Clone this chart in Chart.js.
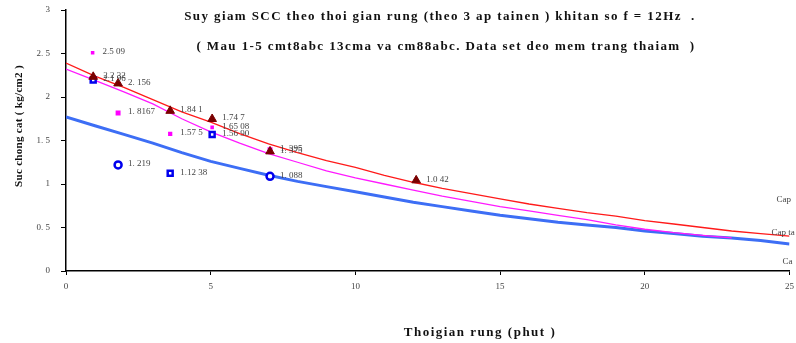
<!DOCTYPE html>
<html>
<head>
<meta charset="utf-8">
<script src="https://cdn.jsdelivr.net/npm/chart.js@4.4.0/dist/chart.umd.min.js"></script>
<style>
  html, body { margin: 0; padding: 0; background: #fff; }
  #wrap { width: 796px; height: 343px; position: relative; }
</style>
</head>
<body>
<div id="wrap"><canvas id="myChart"></canvas></div>
<script>
// thoi gian rung (phut) cho cac duong
var timeRed = [0,1,2,3,4,5,6,7,8,9,10,11,12,13,14,15,16,17,18,19,20,21,22,23,24,25];
var redVals = [2.39,2.24,2.11,1.97,1.83,1.71,1.58,1.46,1.36,1.27,1.19,1.10,1.02,0.95,0.89,0.83,0.77,0.72,0.67,0.63,0.58,0.54,0.50,0.46,0.43,0.40];
var timePink = [0,1,2,3,4,5,6,7,8,9,10,11,12,13,14,15,16,17,18,19,20,21,22,23];
var pinkVals = [2.32,2.19,2.06,1.92,1.75,1.60,1.47,1.35,1.25,1.15,1.07,1.00,0.93,0.86,0.80,0.74,0.69,0.64,0.59,0.53,0.48,0.44,0.41,0.38];
var timeBlue = [0,1,2,3,4,5,6,7,8,9,10,11,12,13,14,15,16,17,18,19,20,21,22,23,24,25];
var blueVals = [1.77,1.67,1.57,1.47,1.36,1.26,1.18,1.10,1.03,0.97,0.91,0.85,0.79,0.74,0.69,0.64,0.60,0.56,0.53,0.50,0.46,0.43,0.40,0.38,0.35,0.31];

// diem do thuc te
var magX = [0.92,1.8,3.6,5.05,7.05];
var magY = [2.509,1.8167,1.575,1.6508,1.395];
var magLbl = ['2.5 09','1. 8167','1.57 5','1.65 08','1. 395'];
var triX = [0.94,1.8,3.6,5.05,7.05,12.1];
var triY = [2.232,2.156,1.841,1.747,1.375,1.042];
var triLbl = ['2.2 32','2. 156','1.84 1','1.74 7','1. 375','1.0 42'];
var bluX = [0.94,1.8,3.6,5.05,7.05];
var bluY = [2.196,1.219,1.1238,1.569,1.088];
var bluLbl = ['2.1 96','1. 219','1.12 38','1.56 90','1. 088'];

var yTicks = [0,0.5,1,1.5,2,2.5,3];
var xTicks = [0,5,10,15,20,25];
var sideLbl = ['Cap', 'Cap ta', 'Ca'];

function pts(xs, ys){
    var out = [];
    for (var i=0;i<xs.length;i++){
        out.push({x: xs[i], y: ys[i]});
    }
    return out;
}

var serif = "'Liberation Serif', 'DejaVu Serif', serif";

var textPlugin = {
    id: 'texts',
    afterDatasetsDraw: function(chart){
        var c = chart.ctx;
        var a = chart.chartArea;
        c.save();
        // nhan cac diem
        c.font = '9px ' + serif;
        c.fillStyle = '#444';
        c.textBaseline = 'middle';
        c.textAlign = 'left';
        var lbls = {3: magLbl, 4: triLbl, 5: bluLbl};
        for (var k in lbls){
            var meta = chart.getDatasetMeta(k);
            meta.data.forEach(function(p, i){
                c.fillText(lbls[k][i], p.x + 10, p.y - 1);
            });
        }
        // nhan ben phai (bi cat)
        c.fillText(sideLbl[0], a.right - 13, 200);
        c.fillText(sideLbl[1], a.right - 18, 233);
        c.fillText(sideLbl[2], a.right - 7, 262);

        // tieu de
        c.font = 'bold 13px ' + serif;
        c.fillStyle = '#111';
        c.textAlign = 'center';
        c.letterSpacing = '1.4px';
        c.fillText('Suy giam SCC theo thoi gian rung (theo 3 ap tainen ) khitan so f = 12Hz  .', 440, 17);
        c.fillText('( Mau 1-5 cmt8abc 13cma va cm88abc. Data set deo mem trang thaiam  )', 446, 47);

        // ten truc
        c.letterSpacing = '1.5px';
        c.fillText('Thoigian rung (phut )', 480, 333);
        c.translate(19, 126);
        c.rotate(-Math.PI/2);
        c.font = 'bold 11px ' + serif;
        c.letterSpacing = '0.3px';
        c.fillText('Suc chong cat ( kg/cm2 )', 0, 0);
        c.restore();
    }
};

var ctx = document.getElementById('myChart').getContext('2d');
var myChart = new Chart(ctx, {
    data: {
        datasets: [{
            type: 'line',
            label: 'Cap',
            data: pts(timeRed, redVals),
            borderColor: '#ff1a1a',
            borderWidth: 1.3,
            pointRadius: 0,
            tension: 0,
            order: 5
        },{
            type: 'line',
            label: 'Cap ta',
            data: pts(timePink, pinkVals),
            borderColor: '#ff1aff',
            borderWidth: 1.3,
            pointRadius: 0,
            tension: 0,
            order: 6
        },{
            type: 'line',
            label: 'Ca',
            data: pts(timeBlue, blueVals),
            borderColor: '#3d6ef5',
            borderWidth: 3,
            pointRadius: 0,
            tension: 0,
            order: 7
        },{
            type: 'scatter',
            label: 'mau hong',
            data: pts(magX, magY),
            pointStyle: 'rect',
            pointRadius: [2.5,3.5,3,2.5,3.5],
            backgroundColor: '#ff00ff',
            borderColor: '#ff00ff',
            borderWidth: 0,
            order: 2
        },{
            type: 'scatter',
            label: 'tam giac',
            data: pts(triX, triY),
            pointStyle: 'triangle',
            pointRadius: 5,
            backgroundColor: '#7a0000',
            borderColor: '#7a0000',
            borderWidth: 1,
            order: 0
        },{
            type: 'scatter',
            label: 'xanh',
            data: pts(bluX, bluY),
            pointStyle: ['rect','circle','rect','rect','circle'],
            pointRadius: 3.5,
            backgroundColor: '#ffffff',
            borderColor: '#0000ee',
            borderWidth: 2.5,
            order: 1
        }]
    },
    options: {
        responsive: true,
        maintainAspectRatio: false,
        animation: false,
        events: [],
        layout: { padding: { top: 10, right: 5, left: 0, bottom: 0 } },
        plugins: {
            legend: { display: false },
            tooltip: { enabled: false },
            title: { display: false }
        },
        scales: {
            x: {
                type: 'linear',
                min: 0,
                max: 25,
                afterFit: function(s){
                    s.height = 72;
                    s.paddingLeft = 0;
                    s.paddingRight = 0;
                },
                afterBuildTicks: function(s){ s.ticks = xTicks.map(function(v){ return {value: v}; }); },
                grid: {
                    drawOnChartArea: false,
                    drawTicks: true,
                    tickLength: 4,
                    color: '#000'
                },
                border: { color: '#000', width: 1.5 },
                ticks: {
                    padding: 6,
                    color: '#444',
                    font: { family: serif, size: 9 },
                    maxRotation: 0
                }
            },
            y: {
                min: 0,
                max: 3,
                afterFit: function(s){
                    s.width = 66;
                    s.paddingTop = 0;
                    s.paddingBottom = 0;
                },
                afterBuildTicks: function(s){ s.ticks = yTicks.map(function(v){ return {value: v}; }); },
                grid: {
                    drawOnChartArea: false,
                    drawTicks: true,
                    tickLength: 5,
                    color: '#000'
                },
                border: { color: '#000', width: 1.5 },
                ticks: {
                    padding: 11,
                    color: '#444',
                    font: { family: serif, size: 9 },
                    callback: function(v){ return String(v).replace('.', '. '); }
                }
            }
        }
    },
    plugins: [textPlugin]
});
</script>
</body>
</html>
